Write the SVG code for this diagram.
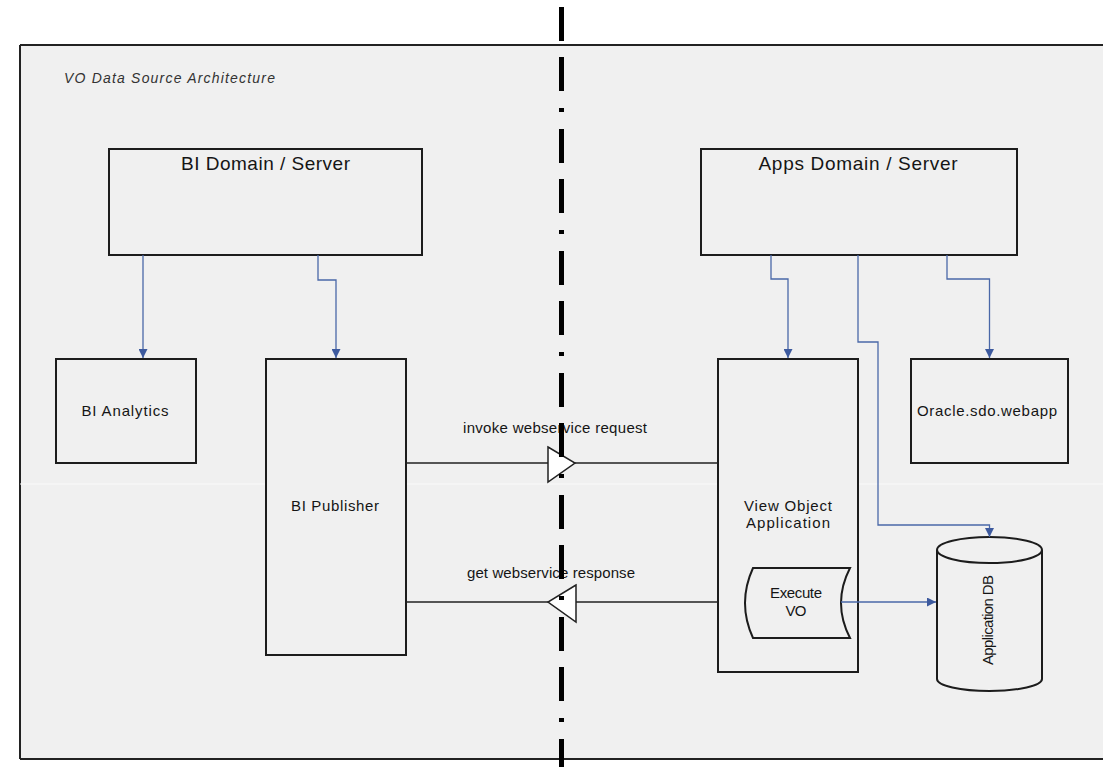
<svg xmlns="http://www.w3.org/2000/svg" width="1106" height="767" viewBox="0 0 1106 767">
<style>
.box{fill:#f0f0f0;stroke:#1c1c1c;stroke-width:2}
.t{font-family:"Liberation Sans",Arial,sans-serif;font-size:15px;fill:#151515}
.big{font-size:19px}
.conn{fill:none;stroke:#4a68a8;stroke-width:1.3}
.hl{fill:none;stroke:#222;stroke-width:1.6}
.tri{fill:#fff;stroke:#222;stroke-width:1.5}
</style>
<defs>
<marker id="ah" viewBox="0 0 10 10" refX="10" refY="5" markerWidth="9" markerHeight="9" markerUnits="userSpaceOnUse" orient="auto">
<path d="M0,0 L10,5 L0,10 z" fill="#3d5a9e"/>
</marker>
</defs>
<rect width="1106" height="767" fill="#fff"/>
<g id="panel">
<rect x="20" y="45" width="1083" height="714" fill="#f0f0f0"/>
<path d="M20,45 H1103 M20,45 V759 M20,759 H1103" fill="none" stroke="#222" stroke-width="2"/>
<line x1="20" y1="484" x2="1103" y2="484" stroke="#fafafa" stroke-width="1"/>
<text class="t" x="64" y="83" font-style="italic" style="font-size:14px;fill:#333" textLength="211" lengthAdjust="spacing">VO Data Source Architecture</text>
</g>
<g id="bi-domain">
<rect class="box" x="109" y="149" width="313" height="106"/>
<text class="t big" x="265.5" y="170" text-anchor="middle" textLength="169" lengthAdjust="spacing">BI Domain / Server</text>
</g>
<g id="apps-domain">
<rect class="box" x="701" y="149" width="316" height="106"/>
<text class="t big" x="858" y="170" text-anchor="middle" textLength="199" lengthAdjust="spacing">Apps Domain / Server</text>
</g>
<g id="bi-analytics">
<rect class="box" x="56" y="359" width="140" height="104"/>
<text class="t" x="125" y="416" text-anchor="middle" textLength="87" lengthAdjust="spacing">BI Analytics</text>
</g>
<g id="bi-publisher">
<rect class="box" x="266" y="359" width="140" height="296"/>
<text class="t" x="335" y="511" text-anchor="middle" textLength="88" lengthAdjust="spacing">BI Publisher</text>
</g>
<g id="view-object">
<rect class="box" x="718" y="359" width="140" height="313"/>
<text class="t" x="788" y="511" text-anchor="middle" textLength="88" lengthAdjust="spacing">View Object</text>
<text class="t" x="788" y="528" text-anchor="middle" textLength="84" lengthAdjust="spacing">Application</text>
</g>
<g id="execute-vo">
<path class="box" d="M753,568 L850,568 Q832,603 850,638 L753,638 Q737,603 753,568 Z"/>
<text class="t" x="796" y="598" text-anchor="middle" textLength="52" lengthAdjust="spacing">Execute</text>
<text class="t" x="796" y="616" text-anchor="middle" textLength="21" lengthAdjust="spacing">VO</text>
</g>
<g id="oracle-sdo">
<rect class="box" x="911" y="359" width="157" height="104"/>
<text class="t" x="987" y="416" text-anchor="middle" textLength="140" lengthAdjust="spacing">Oracle.sdo.webapp</text>
</g>
<g id="application-db">
<path class="box" d="M937,550 V679 A52.5,12 0 0 0 1042,679 V550"/>
<ellipse class="box" cx="989.5" cy="550" rx="52.5" ry="13"/>
<text class="t" transform="translate(993,620) rotate(-90)" text-anchor="middle" textLength="90" lengthAdjust="spacing">Application DB</text>
</g>
<g id="connectors">
<path class="conn" d="M143,255 V358" marker-end="url(#ah)"/>
<path class="conn" d="M318,255 V280 H336 V358" marker-end="url(#ah)"/>
<path class="conn" d="M771,255 V279 H788 V358" marker-end="url(#ah)"/>
<path class="conn" d="M858,255 V342 H878 V525 H989.5 V537" marker-end="url(#ah)"/>
<path class="conn" d="M947,255 V279 H989.5 V358" marker-end="url(#ah)"/>
<path class="conn" d="M841,602 H936" marker-end="url(#ah)"/>
<path class="hl" d="M406,463 H548 M575,463 H718"/>
<polygon class="tri" points="548,447 575,463 548,482"/>
<text class="t" x="463" y="433" textLength="184" lengthAdjust="spacing">invoke webservice request</text>
<path class="hl" d="M406,602 H548 M576,602 H718"/>
<polygon class="tri" points="576,585 548,602 576,622"/>
<text class="t" x="467" y="578" textLength="168" lengthAdjust="spacing">get webservice response</text>
</g>
<g id="divider">
<line x1="561.5" y1="7" x2="561.5" y2="767" stroke="#000" stroke-width="5" stroke-dasharray="34 16 34 17 4 17"/>
</g>
</svg>
